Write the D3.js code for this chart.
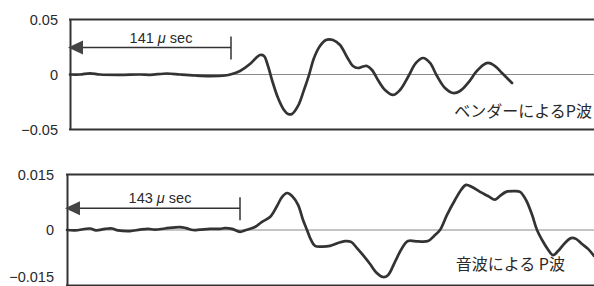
<!DOCTYPE html>
<html><head><meta charset="utf-8">
<script src="https://cdn.jsdelivr.net/npm/d3@7"></script>
<style>
html,body{margin:0;padding:0;background:#fff;}
svg{display:block;}
text{font-family:"Liberation Sans",Arial,sans-serif;fill:#2a2a2a;}
.jp{font-family:"Noto Sans CJK JP",sans-serif;}
</style></head>
<body>
<svg id="chart" width="594" height="286"></svg>
<script>
// ---- data: top panel (bender P-wave), time in μs, amplitude ----
const topTime = [0,8.8,17.5,26.3,43.8,61.3,70.1,85.0,96.3,109.5,122.6,135.7,141.9,148.9,157.6,162.9,166.4,169.9,173.4,176.9,182.2,187.4,190.9,194.4,199.7,204.9,209.3,213.7,218.9,224.2,230.3,236.5,242.6,247.8,252.2,256.6,260.1,264.5,269.7,275.9,282.9,289.0,296.0,303.0,309.2,315.3,321.4,328.4,335.4,341.6,348.6,355.6,361.7,366.1,372.2,378.3,383.6,387.1];
const topValue = [0,0,0.0011,0,-0.0003,0,-0.0003,0.0009,0,-0.0009,-0.0014,-0.0009,0.0005,0.0032,0.0095,0.0150,0.0177,0.0168,0.0077,-0.0050,-0.0214,-0.0323,-0.0359,-0.0359,-0.0286,-0.0141,-0.0005,0.0150,0.0259,0.0314,0.0314,0.0268,0.0159,0.0077,0.0059,0.0073,0.0077,0.0041,-0.0050,-0.0141,-0.0186,-0.0141,-0.0023,0.0105,0.0150,0.0105,-0.0014,-0.0123,-0.0168,-0.0150,-0.0077,0.0023,0.0086,0.0105,0.0077,0.0014,-0.0041,-0.0077];
const topTickValues = [0.05, 0, -0.05];
const topTickLabels = ["0.05", "0", "\u22120.05"];
const topDelay = 141;
const topDelayLabel = "141";
const topTitle = "ベンダーによるP波";
const topTimeMax = 458.9;

// ---- data: bottom panel (sound wave P-wave) ----
const botTime = [0,6.6,19.0,24.0,31.4,37.2,42.2,52.1,60.3,67.0,72.7,81.0,93.4,98.4,104.2,109.9,118.2,126.5,130.6,136.4,143.0,148.0,155.4,161.2,167.8,173.6,177.7,181.9,186.0,191.0,195.1,198.4,201.7,205.0,210.8,217.4,224.0,229.8,234.8,239.7,244.7,250.5,255.4,261.2,265.3,271.1,276.9,281.9,290.1,298.4,303.4,308.3,314.1,320.7,325.7,329.8,334.8,341.4,348.0,353.8,357.9,362.9,369.5,374.5,379.4,384.4,388.5,392.7,396.8,401.7,405.9,411.6,416.6,420.7,425.7,430.7,435.6];
const botValue = [0,-0.0001,0.0004,-0.0001,0.0003,0.0004,-0.0001,-0.0003,0.0001,0.0003,0.0001,0.0004,0.0008,0.0005,0,0.0001,0.0003,0.0003,0.0005,0.0003,-0.0005,0,0.0008,0.0022,0.0035,0.0065,0.0089,0.0100,0.0092,0.0068,0.0027,0,-0.0027,-0.0043,-0.0045,-0.0043,-0.0035,-0.0030,-0.0032,-0.0049,-0.0068,-0.0092,-0.0114,-0.0127,-0.0122,-0.0086,-0.0049,-0.0030,-0.0031,-0.0030,-0.0016,0,0.0041,0.0081,0.0108,0.0122,0.0116,0.0103,0.0092,0.0082,0.0092,0.0103,0.0105,0.0103,0.0081,0.0041,0,-0.0027,-0.0049,-0.0068,-0.0057,-0.0035,-0.0022,-0.0024,-0.0038,-0.0051,-0.0070];
const botTickValues = [0.015, 0, -0.015];
const botTickLabels = ["0.015", "0", "\u22120.015"];
const botDelay = 143;
const botDelayLabel = "143";
const botTitle = "音波による P波";
const botTimeMax = 435.6;

const svg = d3.select("#chart");
const ink = "#333";
const H = 286;

function panel(cfg) {
  const x = d3.scaleLinear().domain([0, cfg.tmax]).range([cfg.left, 594]);
  const y = d3.scaleLinear().domain([-cfg.ymax, cfg.ymax]).range([cfg.bottom, cfg.top]);
  const g = svg.append("g");
  // zero line
  g.append("line").attr("x1", x(0)).attr("x2", 594).attr("y1", y(0)).attr("y2", y(0))
    .attr("stroke", "#8a8a8a").attr("stroke-width", 1);
  // frame: top and bottom
  [cfg.ymax, -cfg.ymax].forEach(v => {
    g.append("line").attr("x1", x(0) - 1).attr("x2", 594).attr("y1", y(v)).attr("y2", y(v))
      .attr("stroke", ink).attr("stroke-width", 2);
  });
  // left axis
  const ax = d3.axisLeft(y).tickValues(cfg.ticks).tickSize(0).tickPadding(cfg.pad)
    .tickFormat((d, i) => cfg.labels[i]);
  const axg = g.append("g").attr("transform", `translate(${x(0)},0)`).call(ax);
  axg.select(".domain").attr("stroke", ink).attr("stroke-width", 2);
  axg.selectAll("text").attr("font-size", 14.5).attr("fill", "#2a2a2a")
    .attr("font-family", "Liberation Sans, Arial, sans-serif");
  // keep a label that would fall past the picture's bottom edge just inside it
  axg.selectAll(".tick").each(function(d) {
    const ty = y(d);
    if (ty + 6 > H) d3.select(this).select("text").attr("dy", "0").attr("y", -(ty - (H - 4.5)));
  });
  // waveform
  const line = d3.line().x(d => x(d[0])).y(d => y(d[1])).curve(d3.curveCatmullRom);
  g.append("path").datum(cfg.t.map((t, i) => [t, cfg.v[i]]))
    .attr("d", line).attr("fill", "none").attr("stroke", ink)
    .attr("stroke-width", 2.7).attr("stroke-linejoin", "round").attr("stroke-linecap", "round");
  // delay arrow
  const ay = y(cfg.arrowV);
  const x0 = x(0) - 2, x1 = x(cfg.delay);
  g.append("line").attr("x1", x0 + 12).attr("x2", x1).attr("y1", ay).attr("y2", ay)
    .attr("stroke", ink).attr("stroke-width", 1.5);
  g.append("path").attr("d", `M${x0},${ay} L${x0 + 15},${ay - 7} L${x0 + 15},${ay + 7} Z`).attr("fill", "#444");
  g.append("line").attr("x1", x1).attr("x2", x1).attr("y1", ay - 11).attr("y2", ay + 12)
    .attr("stroke", ink).attr("stroke-width", 1.5);
  const tx = g.append("text").attr("x", x1 - cfg.labelDx).attr("y", ay - 5)
    .attr("text-anchor", "middle").attr("font-size", 14.5);
  tx.append("tspan").text(cfg.delayLabel + " ");
  tx.append("tspan").attr("font-style", "italic").text("\u03bc");
  tx.append("tspan").text(" sec");
  // title
  g.append("text").attr("class", "jp").attr("x", cfg.titleX).attr("y", cfg.titleY)
    .attr("text-anchor", "end").attr("font-size", cfg.titleSize).text(cfg.title);
}

panel({t: topTime, v: topValue, tmax: topTimeMax, ymax: 0.05, left: 70, top: 19.5, bottom: 129.5,
  ticks: topTickValues, labels: topTickLabels, pad: 12, delay: topDelay, delayLabel: topDelayLabel,
  labelDx: 70, arrowV: 0.0245, title: topTitle, titleX: 592, titleY: 117, titleSize: 16});
panel({t: botTime, v: botValue, tmax: botTimeMax, ymax: 0.015, left: 67, top: 174.5, bottom: 285.5,
  ticks: botTickValues, labels: botTickLabels, pad: 13, delay: botDelay, delayLabel: botDelayLabel,
  labelDx: 80, arrowV: 0.0059, title: botTitle, titleX: 565, titleY: 270, titleSize: 16});
</script>
</body></html>
